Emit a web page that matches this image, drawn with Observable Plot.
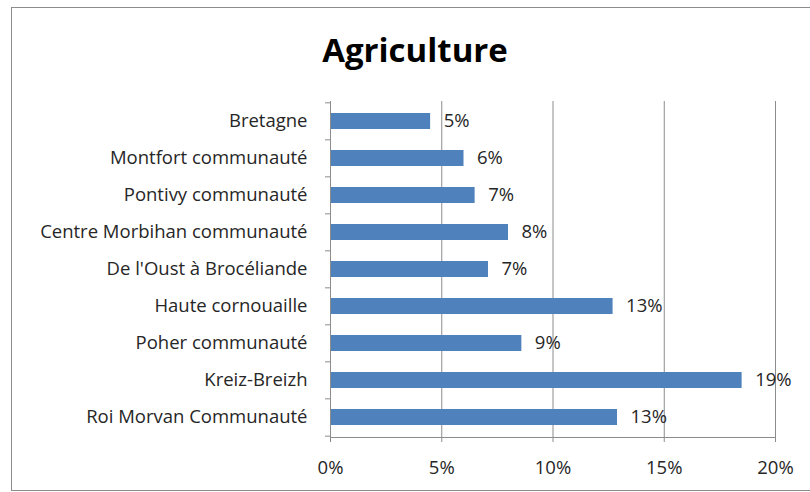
<!DOCTYPE html>
<html><head><meta charset="utf-8">
<script src="https://cdn.jsdelivr.net/npm/d3@7"></script>
<script src="https://cdn.jsdelivr.net/npm/@observablehq/plot@0.6"></script>
<style>
body{margin:0;background:#fff;font-family:"Open Sans",sans-serif;width:810px;height:492px;overflow:hidden;position:relative;}
#frame{position:absolute;left:11px;top:7px;width:820px;height:484px;border:1px solid #8c8c8c;border-right:none;box-sizing:border-box;}
#title{position:absolute;left:10px;top:28px;width:810px;text-align:center;font-size:33px;font-weight:bold;color:#000;line-height:44px;}
#chart{position:absolute;left:0;top:95px;}
</style></head>
<body>
<div id="frame"></div>
<div id="title">Agriculture</div>
<div id="chart"></div>
<script>
const categories = ["Bretagne","Montfort communauté","Pontivy communauté","Centre Morbihan communauté","De l'Oust à Brocéliande","Haute cornouaille","Poher communauté","Kreiz-Breizh","Roi Morvan Communauté"];
const values = [4.5, 6.0, 6.5, 8.0, 7.1, 12.7, 8.6, 18.5, 12.9];
const valueLabels = ["5%","6%","7%","8%","7%","13%","9%","19%","13%"];
const xTicks = [0, 5, 10, 15, 20];

const data = categories.map((c, i) => ({cat: c, value: values[i], label: valueLabels[i]}));
const H = 397, mT = 6, mB = 55;
const step = (H - mT - mB) / categories.length;
const gray = "#8c8c8c";
const txt = "#262626";

const chart = Plot.plot({
  width: 810, height: H,
  marginTop: mT, marginBottom: mB, marginLeft: 330, marginRight: 35,
  style: {fontFamily: "Open Sans", fontSize: "18.5px", color: txt, background: "transparent"},
  x: {domain: [0, 20], ticks: xTicks, label: null},
  y: {domain: categories, paddingInner: 0.57, paddingOuter: 0.285, label: null},
  marks: [
    Plot.gridX(xTicks.filter(d => d > 0), {stroke: gray, strokeOpacity: 1}),
    Plot.barX(data, {y: "cat", x: "value", fill: "#4f81bd"}),
    Plot.text(data, {y: "cat", x: "value", text: "label", textAnchor: "start", dx: 13, fontSize: 18.5, fill: txt}),
    Plot.ruleX([0], {stroke: gray}),
    Plot.frame({anchor: "bottom", stroke: gray}),
    Plot.axisX({ticks: xTicks, tickFormat: d => d + "%", tickSize: 5, tickPadding: 18, stroke: gray, fill: txt}),
    Plot.axisY({tickSize: 0, tickPadding: 23, fill: txt}),
    Plot.axisY({tickSize: 5, text: null, stroke: gray, dy: -step / 2}),
    Plot.axisY(categories.slice(-1), {tickSize: 5, text: null, stroke: gray, dy: step / 2})
  ]
});
document.getElementById("chart").appendChild(chart);
</script>
</body></html>
